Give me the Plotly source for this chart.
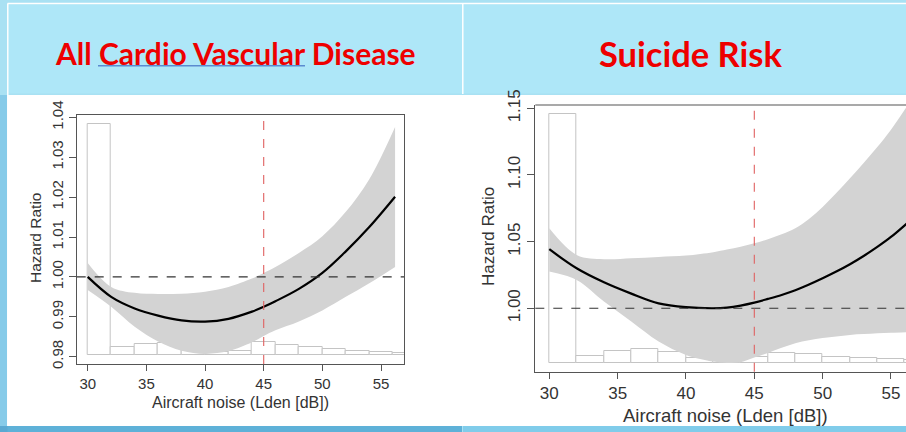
import plotly.graph_objects as go

W, H = 906, 432

# ---------------- data: All Cardio Vascular Disease ----------------
cvd_x = [30, 32, 34, 36, 38, 40, 42, 44, 45, 46, 48, 50, 52, 54, 56.2]
cvd_hr = [1.0000, 0.9950, 0.9921, 0.9903, 0.9891, 0.9888, 0.9895, 0.9913, 0.9925,
          0.9939, 0.9970, 1.0010, 1.0064, 1.0125, 1.0201]
cvd_lo = [0.9967, 0.9925, 0.9875, 0.9838, 0.9815, 0.9807, 0.9814, 0.9836, 0.9852,
          0.9866, 0.9888, 0.9916, 0.9950, 0.9984, 1.0025]
cvd_hi = [1.0035, 0.9975, 0.9960, 0.9957, 0.9958, 0.9963, 0.9975, 0.9996, 1.0010,
          1.0025, 1.0060, 1.0102, 1.0163, 1.0245, 1.0376]
cvd_hist_left = [30, 32, 34, 36, 38, 40, 42, 44, 46, 48, 50, 52, 54, 56]
cvd_hist_top = [1.0383, 0.9824, 0.9832, 0.9835, 0.9822, 0.9812, 0.9815, 0.9838,
                0.9829, 0.9825, 0.9819, 0.9814, 0.9812, 0.9810]
cvd_hist_base = 0.9804

# ---------------- data: Suicide Risk ----------------
sui_x = [30, 32, 34, 36, 38, 40, 42, 43, 44, 45, 46, 47, 48, 49, 50, 51, 52, 53, 54, 55, 56.2]
sui_hr = [1.0443, 1.0300, 1.0195, 1.0110, 1.0037, 1.0008, 1.0000, 1.0005, 1.0020,
          1.0042, 1.0070, 1.0100, 1.0135, 1.0178, 1.0225, 1.0275, 1.0330, 1.0392, 1.0460,
          1.0535, 1.0640]
sui_lo = [1.0275, 1.0212, 1.0050, 0.9900, 0.9750, 0.9650, 0.9600, 0.9590, 0.9595,
          0.9630, 0.9665, 0.9703, 0.9738, 0.9760, 0.9776, 0.9789, 0.9800, 0.9806, 0.9812,
          0.9816, 0.9820]
sui_hi = [1.0600, 1.0400, 1.0368, 1.0375, 1.0385, 1.0395, 1.0420, 1.0440, 1.0462,
          1.0488, 1.0518, 1.0555, 1.0600, 1.0670, 1.0760, 1.0865, 1.0975, 1.1090, 1.1210,
          1.1340, 1.1520]
sui_hist_left = [30, 32, 34, 36, 38, 40, 42, 44, 46, 48, 50, 52, 54, 56]
sui_hist_top = [1.1455, 0.9645, 0.9680, 0.9697, 0.9670, 0.9625, 0.9615, 0.9632,
                0.9667, 0.9655, 0.9638, 0.9627, 0.9620, 0.9612]
sui_hist_base = 0.9590

ref_noise = 45
ref_hr = 1.0
bin_width = 2

cvd_yticks = [0.98, 0.99, 1.00, 1.01, 1.02, 1.03, 1.04]
cvd_yticklabels = ["0.98", "0.99", "1.00", "1.01", "1.02", "1.03", "1.04"]
sui_yticks = [1.00, 1.05, 1.10, 1.15]
sui_yticklabels = ["1.00", "1.05", "1.10", "1.15"]
xticks = [30, 35, 40, 45, 50, 55]

title_left = "All Cardio Vascular Disease"
title_right = "Suicide Risk"
x_title = "Aircraft noise (Lden [dB])"
y_title = "Hazard Ratio"


def fx(p):
    return p / W


def fy(p):
    return 1 - p / H


fig = go.Figure()

BAND = "#D3D3D3"
HISTLINE = "#C4C4C4"


def add_panel(xs, hr, lo, hi, hl, ht, hb, xa, ya):
    centers = [l + bin_width / 2 for l in hl]
    fig.add_trace(go.Bar(x=centers, y=[t - hb for t in ht], base=hb, width=bin_width,
                         marker=dict(color="white", line=dict(color=HISTLINE, width=1)),
                         xaxis=xa, yaxis=ya, showlegend=False, hoverinfo="skip"))
    fig.add_trace(go.Scatter(x=xs, y=lo, mode="lines", line=dict(width=0, shape="spline"),
                             xaxis=xa, yaxis=ya, showlegend=False, hoverinfo="skip"))
    fig.add_trace(go.Scatter(x=xs, y=hi, mode="lines", line=dict(width=0, shape="spline"),
                             fill="tonexty", fillcolor=BAND,
                             xaxis=xa, yaxis=ya, showlegend=False, hoverinfo="skip"))
    fig.add_trace(go.Scatter(x=xs, y=hr, mode="lines",
                             line=dict(color="black", width=2.2, shape="spline"),
                             xaxis=xa, yaxis=ya, showlegend=False))


add_panel(cvd_x, cvd_hr, cvd_lo, cvd_hi, cvd_hist_left, cvd_hist_top, cvd_hist_base, "x", "y")
add_panel(sui_x, sui_hr, sui_lo, sui_hi, sui_hist_left, sui_hist_top, sui_hist_base, "x2", "y2")

shapes = []
# slide background pieces
shapes.append(dict(type="rect", xref="paper", yref="paper", x0=0, x1=1, y0=fy(95), y1=fy(426),
                   fillcolor="white", line=dict(width=0), layer="below"))
shapes.append(dict(type="rect", xref="paper", yref="paper", x0=0, x1=fx(7.5), y0=fy(95), y1=fy(432),
                   fillcolor="#86CBE9", line=dict(width=0), layer="below"))
shapes.append(dict(type="rect", xref="paper", yref="paper", x0=0, x1=fx(462), y0=0, y1=fy(426),
                   fillcolor="#5EB1D8", line=dict(width=0), layer="below"))
shapes.append(dict(type="rect", xref="paper", yref="paper", x0=fx(463), x1=1, y0=0, y1=fy(426),
                   fillcolor="#80CCEA", line=dict(width=0), layer="below"))
shapes.append(dict(type="rect", xref="paper", yref="paper", x0=fx(0), x1=fx(7.5), y0=fy(426), y1=0,
                   fillcolor="#5AA9D2", line=dict(width=0), layer="below"))
# header cells
shapes.append(dict(type="rect", xref="paper", yref="paper", x0=fx(8.5), x1=fx(462), y0=fy(93.5), y1=fy(4.5),
                   fillcolor="#AEE7F8", line=dict(width=0), layer="below"))
shapes.append(dict(type="rect", xref="paper", yref="paper", x0=fx(463.5), x1=1, y0=fy(93.5), y1=fy(4.5),
                   fillcolor="#AEE7F8", line=dict(width=0), layer="below"))
# white grid lines of slide table
shapes.append(dict(type="line", xref="paper", yref="paper", x0=fx(7.5), x1=1, y0=fy(3.5), y1=fy(3.5),
                   line=dict(color="white", width=1.5), layer="below"))
shapes.append(dict(type="line", xref="paper", yref="paper", x0=fx(7.8), x1=fx(7.8), y0=fy(3.5), y1=fy(426),
                   line=dict(color="white", width=1.5), layer="below"))
shapes.append(dict(type="line", xref="paper", yref="paper", x0=fx(462.8), x1=fx(462.8), y0=fy(3.5), y1=fy(94),
                   line=dict(color="white", width=1.5), layer="below"))
# underline of "Cardio Vascular"
shapes.append(dict(type="line", xref="paper", yref="paper", x0=fx(98), x1=fx(305), y0=fy(65.7), y1=fy(65.7),
                   line=dict(color="#5B8BD0", width=1.5)))

# reference lines
for xa, ya in (("x", "y"), ("x2", "y2")):
    shapes.append(dict(type="line", xref=xa + " domain", yref=ya, x0=0, x1=1, y0=ref_hr, y1=ref_hr,
                       line=dict(color="#333333", width=1.2, dash="dash")))
    shapes.append(dict(type="line", xref=xa, yref=ya + " domain", x0=ref_noise, x1=ref_noise, y0=0, y1=1,
                       line=dict(color="#E06060", width=1.1, dash="dash")))

# right panel box top (right side is off the slide)
shapes.append(dict(type="line", xref="x2 domain", yref="y2 domain", x0=0, x1=1, y0=1, y1=1,
                   line=dict(color="#555555", width=1.2)))

fig.update_layout(shapes=shapes)

AX = "#555555"
TICKF = "Liberation Sans, Arial, sans-serif"
common = dict(showgrid=False, zeroline=False, automargin=False, ticks="outside", tickcolor=AX,
              linecolor=AX, linewidth=1.2, showline=True)

fig.update_layout(
    width=W, height=H,
    margin=dict(l=0, r=0, t=0, b=0, pad=0, autoexpand=False),
    paper_bgcolor="#A9E1F3",
    plot_bgcolor="white",
    bargap=0,
    showlegend=False,
    xaxis=dict(domain=[fx(76.7), fx(404)], range=[29.06, 56.96], tickvals=xticks,
               mirror=True, ticklen=6,
               tickfont=dict(family=TICKF, size=15, color="#333333"), anchor="y", **common),
    yaxis=dict(domain=[fy(364), fy(115)], range=[0.97817, 1.04058], tickvals=cvd_yticks,
               ticktext=cvd_yticklabels, tickangle=-90, mirror=True, ticklen=7,
               tickfont=dict(family=TICKF, size=15, color="#333333"), anchor="x", **common),
    xaxis2=dict(domain=[fx(535.3), 1.0], range=[28.976, 56.10], tickvals=xticks, ticklen=6,
                tickfont=dict(family=TICKF, size=17, color="#333333"), anchor="y2", **common),
    yaxis2=dict(domain=[fy(371.7), fy(105)], range=[0.9524, 1.1525], tickvals=sui_yticks,
                ticktext=sui_yticklabels, tickangle=-90, ticklen=7,
                tickfont=dict(family=TICKF, size=17, color="#333333"), anchor="x2", **common),
)

annotations = [
    dict(text="<b>" + title_left + "</b>", x=fx(235), y=fy(53), xref="paper", yref="paper",
         showarrow=False, xanchor="center", yanchor="middle",
         font=dict(family="Lato, Carlito, sans-serif", size=30, color="#EE0000")),
    dict(text="<b>" + title_right + "</b>", x=fx(690), y=fy(53), xref="paper", yref="paper",
         showarrow=False, xanchor="center", yanchor="middle",
         font=dict(family="Lato, Carlito, sans-serif", size=34.5, color="#EE0000")),
    dict(text=x_title, x=fx(240), y=fy(402), xref="paper", yref="paper", showarrow=False,
         xanchor="center", yanchor="middle", font=dict(family=TICKF, size=16, color="#333333")),
    dict(text=y_title, x=fx(35), y=fy(238), xref="paper", yref="paper", showarrow=False, textangle=-90,
         xanchor="center", yanchor="middle", font=dict(family=TICKF, size=15.5, color="#333333")),
    dict(text=x_title, x=fx(725), y=fy(415), xref="paper", yref="paper", showarrow=False,
         xanchor="center", yanchor="middle", font=dict(family=TICKF, size=18.5, color="#333333")),
    dict(text=y_title, x=fx(488), y=fy(237), xref="paper", yref="paper", showarrow=False, textangle=-90,
         xanchor="center", yanchor="middle", font=dict(family=TICKF, size=17, color="#333333")),
]
fig.update_layout(annotations=annotations)

fig.write_html(
    "out.html",
    config={"displayModeBar": False},
    post_script="document.body.style.margin='0';document.body.style.overflow='hidden';",
)
